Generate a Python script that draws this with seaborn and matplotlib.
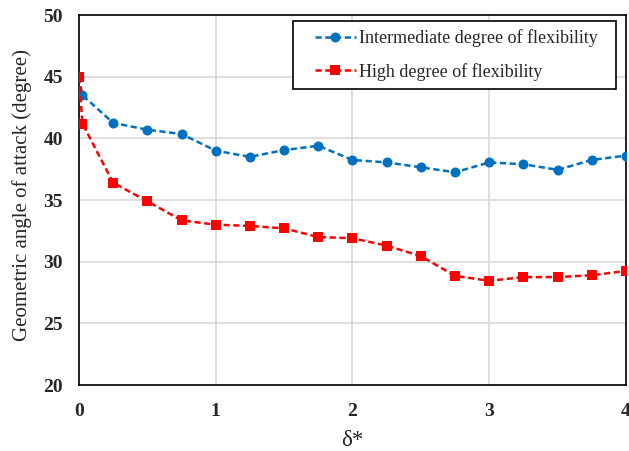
import pandas as pd
import matplotlib.pyplot as plt
import seaborn as sns
from matplotlib.patches import Rectangle

delta = [0, 0.025, 0.25, 0.5, 0.75, 1.0, 1.25, 1.5, 1.75, 2.0,
         2.25, 2.5, 2.75, 3.0, 3.25, 3.5, 3.75, 4.0]
intermediate = [45.0, 43.5, 41.25, 40.7, 40.35, 39.0, 38.5, 39.05, 39.4, 38.25,
                38.05, 37.65, 37.25, 38.05, 37.9, 37.45, 38.25, 38.6]
high = [45.0, 41.2, 36.4, 34.9, 33.35, 33.0, 32.9, 32.7, 32.0, 31.9,
        31.3, 30.45, 28.85, 28.45, 28.75, 28.75, 28.9, 29.25]

def main():
    sns.set_style('white')
    plt.rcParams['font.family'] = ['Liberation Serif', 'DejaVu Serif']

    df = pd.DataFrame({'delta': delta, 'inter': intermediate, 'high': high})

    fig = plt.figure(figsize=(6.29, 4.51), dpi=100)
    ax = fig.add_axes([0.1256, 0.1463, 0.8696, 0.8204])

    sns.lineplot(data=df, x='delta', y='inter', ax=ax, color='#0070C0',
                 linewidth=1.8, dashes=(2.5, 1.4), marker='o', markersize=7.2,
                 markeredgewidth=0, label='Intermediate degree of flexibility',
                 zorder=3)
    sns.lineplot(data=df, x='delta', y='high', ax=ax, color='#FF0000',
                 linewidth=1.8, dashes=(2.5, 1.4), marker='s', markersize=6.5,
                 markeredgewidth=0, label='High degree of flexibility',
                 zorder=4)

    ax.set_xlim(0, 4)
    ax.set_ylim(20, 50)
    ax.set_xticks([0, 1, 2, 3, 4])
    ax.set_yticks([20, 25, 30, 35, 40, 45, 50])
    ax.grid(True, color='#d9d9d9', linewidth=1.2)
    ax.set_axisbelow(True)
    for s in ax.spines.values():
        s.set_color('black')
        s.set_linewidth(1.2)
    ax.tick_params(axis='x', length=0, pad=13)
    ax.tick_params(axis='y', length=0, pad=11.5)
    for lbl in ax.get_xticklabels() + ax.get_yticklabels():
        lbl.set_fontweight('bold')
        lbl.set_fontsize(14)

    ax.set_xlabel('δ*', fontsize=16.5, labelpad=7)
    ax.set_ylabel('Geometric angle of attack (degree)', fontsize=15)
    ax.yaxis.set_label_coords(-0.086, 0.5135)

    # legend box: wider side padding than the vertical one
    box = Rectangle((293 / 629, 1 - 89 / 451), 323 / 629, 68.3 / 451,
                    transform=fig.transFigure, facecolor='white',
                    edgecolor='black', linewidth=1.2, zorder=4.5)
    ax.add_patch(box)
    ax.legend(loc='upper left', bbox_to_anchor=(315 / 629, 1 - 29.5 / 451),
              bbox_transform=fig.transFigure, frameon=False,
              fontsize=13, handlelength=2.27, handletextpad=0.17,
              labelspacing=0.85, borderpad=0, borderaxespad=0)

    fig.savefig('out.png', dpi=100)

if __name__ == '__main__':
    main()
